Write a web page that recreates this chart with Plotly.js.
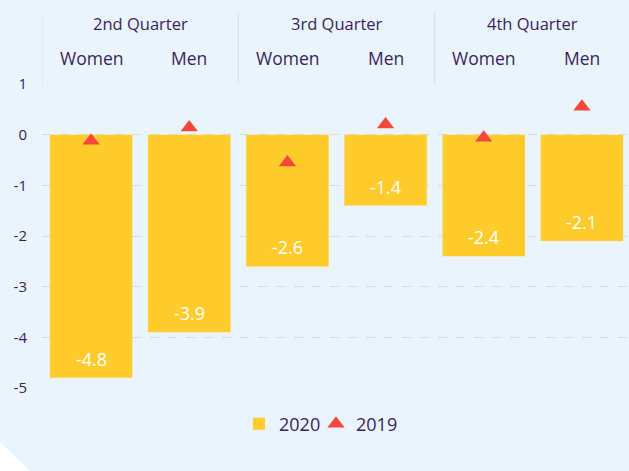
<!DOCTYPE html>
<html>
<head>
<meta charset="utf-8">
<script src="https://cdn.plot.ly/plotly-3.0.1.min.js"></script>
<style>
html,body{margin:0;padding:0;background:#EAF4FD;overflow:hidden;}
#chart{width:631px;height:471px;}
</style>
</head>
<body>
<div id="chart"></div>
<script>
var categories = ["Q2 Women", "Q2 Men", "Q3 Women", "Q3 Men", "Q4 Women", "Q4 Men"];
var genderLabels = ["Women", "Men", "Women", "Men", "Women", "Men"];
var quarterLabels = ["2nd Quarter", "3rd Quarter", "4th Quarter"];
var values2020 = [-4.8, -3.9, -2.6, -1.4, -2.4, -2.1];
var values2019 = [-0.12, 0.14, -0.55, 0.2, -0.06, 0.55];
var yTicks = [1, 0, -1, -2, -3, -4, -5];

var textColor = "#3A1F5D";
var W = 631, H = 471, ML = 42, MR = 0, MT = 84, MB = 83;
var pw = W - ML - MR, ph = H - MT - MB;
function px2x(p){ return (p - ML) / pw; }
function py2y(p){ return (H - MB - p) / ph; }

var traces = [
  {
    type: "bar", name: "2020", x: categories, y: values2020,
    marker: {color: "#FFCC2B"}, width: 0.84,
    hoverinfo: "skip", legend: "legend"
  },
  {
    type: "scatter", mode: "markers", name: "2019", x: categories, y: values2019,
    marker: {symbol: "triangle-up", size: 15, color: "#F7473A"},
    hoverinfo: "skip", legend: "legend2"
  }
];

var annotations = [];
values2020.forEach(function(v, i){
  annotations.push({
    x: categories[i], y: v, xref: "x", yref: "y", text: v.toFixed(1),
    showarrow: false, yshift: 19, yanchor: "middle",
    font: {family: "Open Sans, sans-serif", size: 18, color: "#FFFFFF"}
  });
});
genderLabels.forEach(function(g, i){
  annotations.push({
    x: i, y: py2y(58), xref: "x", yref: "paper", text: g, showarrow: false,
    yanchor: "middle",
    font: {family: "Open Sans, sans-serif", size: 17.5, color: textColor}
  });
});
quarterLabels.forEach(function(q, k){
  annotations.push({
    x: 2 * k + 0.5, y: py2y(23), xref: "x", yref: "paper", text: q, showarrow: false,
    yanchor: "middle",
    font: {family: "Open Sans, sans-serif", size: 16.5, color: textColor}
  });
});

var shapes = [];
[-0.5, 1.5, 3.5].forEach(function(xv){
  shapes.push({
    type: "line", xref: "x", yref: "paper", x0: xv, x1: xv,
    y0: py2y(84), y1: py2y(13), line: {color: "#DCDCDC", width: 1}
  });
});
shapes.push({
  type: "path", xref: "paper", yref: "paper", layer: "below",
  path: "M " + px2x(0) + " " + py2y(442) + " L " + px2x(30) + " " + py2y(471) +
        " L " + px2x(0) + " " + py2y(471) + " Z",
  fillcolor: "#FFFFFF", line: {width: 0}
});

function legendAt(xPx){
  return {
    orientation: "h", x: px2x(xPx), xanchor: "left", y: py2y(424), yanchor: "middle",
    font: {size: 18, color: textColor}, bgcolor: "rgba(0,0,0,0)", itemwidth: 30
  };
}

var layout = {
  width: W, height: H,
  margin: {l: ML, r: MR, t: MT, b: MB, pad: 0},
  paper_bgcolor: "#EAF4FD", plot_bgcolor: "rgba(0,0,0,0)",
  font: {family: "Open Sans, sans-serif", color: textColor},
  showlegend: true,
  legend: legendAt(239),
  legend2: legendAt(316),
  xaxis: {
    type: "category", categoryorder: "array", categoryarray: categories,
    range: [-0.5, 5.5], showticklabels: false, showgrid: false,
    zeroline: false, showline: false, ticks: "", fixedrange: true
  },
  yaxis: {
    range: [-5, 1], tickvals: yTicks, ticktext: yTicks.map(String),
    showgrid: true, gridcolor: "#DADADA", griddash: "dash", gridwidth: 1,
    zeroline: false, showline: false, ticks: "",
    tickfont: {size: 15, color: textColor}, ticklabelstandoff: 14, fixedrange: true
  },
  bargap: 0.16,
  annotations: annotations,
  shapes: shapes
};

Plotly.newPlot("chart", traces, layout, {displayModeBar: false, staticPlot: true});
</script>
</body>
</html>
